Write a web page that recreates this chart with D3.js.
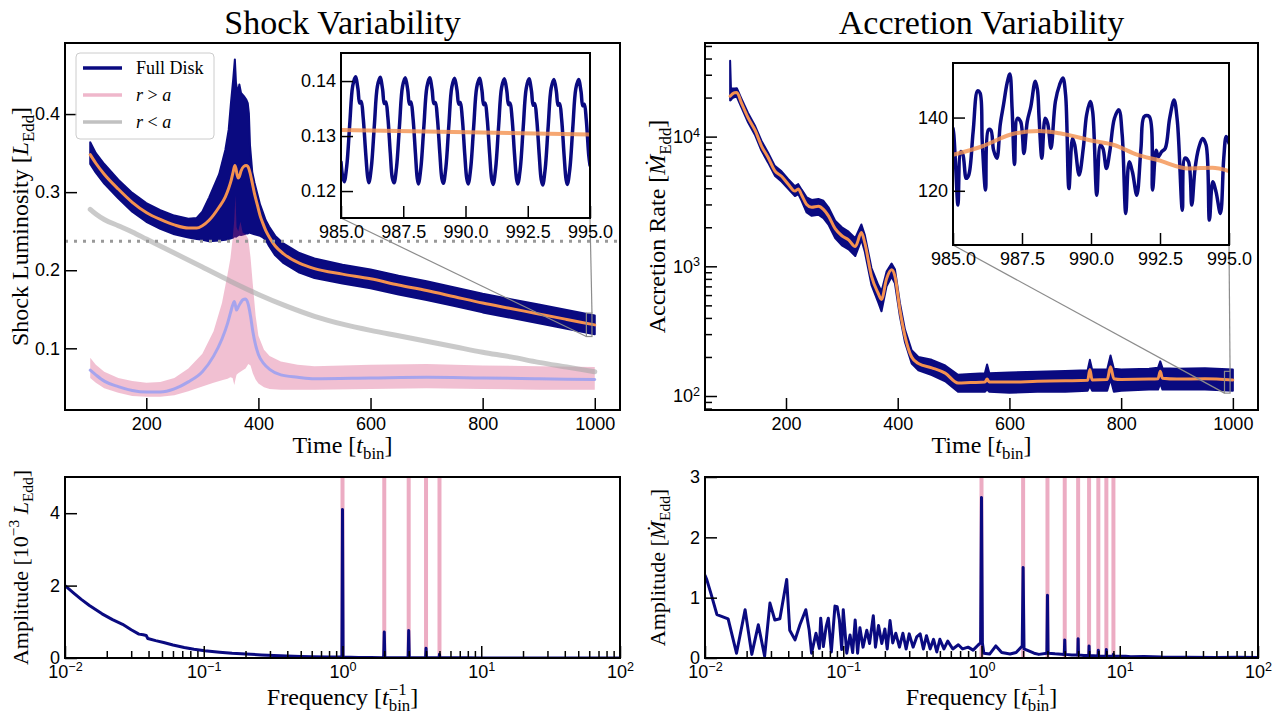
<!DOCTYPE html>
<html>
<head>
<meta charset="utf-8">
<script src="https://cdn.jsdelivr.net/npm/d3@7"></script>
<style>
  body { margin: 0; background: #fff; }
</style>
</head>
<body>
<div id="main"></div>
<script>
const W = 1278, H = 716;
const FONT = '"Liberation Serif", "Times New Roman", Times, serif';
const TICK_FS = 18, LABEL_FS = 24, SMALL_LABEL_FS = 22, TITLE_FS = 34;

const NAVY = "#0a0a80";
const ORANGE = "#f4914f";
const PINK = "#d0306a";
const LILAC = "#9da1f0";
const GREY = "#a6a6a6";

// ---------------- data: shock luminosity (L_Edd) ----------------
const shockT = [100, 110, 125, 150, 175, 200, 225, 250, 275, 290,
    300, 312, 330, 341, 347, 351, 355, 358, 360, 362,
    364, 366, 369, 374, 378, 381, 383, 385, 389, 393,
    398, 403, 408, 413, 419, 430, 445, 473, 500, 550,
    600, 650, 700, 750, 800, 850, 900, 950, 1000];
const shockMean = [0.348, 0.337, 0.323, 0.304, 0.287, 0.274, 0.265, 0.258, 0.254, 0.254,
    0.257, 0.264, 0.281, 0.294, 0.305, 0.314, 0.326, 0.334, 0.330, 0.322,
    0.318, 0.320, 0.327, 0.333, 0.334, 0.333, 0.330, 0.325, 0.312, 0.298,
    0.284, 0.270, 0.260, 0.251, 0.243, 0.231, 0.221, 0.209, 0.202, 0.195,
    0.189, 0.181, 0.174, 0.166, 0.158, 0.151, 0.144, 0.137, 0.130];
const shockHi = [0.364, 0.350, 0.336, 0.316, 0.299, 0.286, 0.277, 0.270, 0.266, 0.267,
    0.275, 0.293, 0.323, 0.354, 0.380, 0.414, 0.444, 0.470, 0.440, 0.432,
    0.429, 0.438, 0.427, 0.423, 0.419, 0.414, 0.401, 0.360, 0.326, 0.312,
    0.298, 0.284, 0.274, 0.264, 0.256, 0.244, 0.234, 0.222, 0.215, 0.207,
    0.201, 0.193, 0.186, 0.178, 0.170, 0.163, 0.156, 0.149, 0.142];
const shockLo = [0.336, 0.325, 0.311, 0.292, 0.275, 0.262, 0.253, 0.246, 0.242, 0.240,
    0.239, 0.237, 0.238, 0.239, 0.240, 0.241, 0.242, 0.244, 0.243, 0.244,
    0.245, 0.246, 0.245, 0.246, 0.247, 0.247, 0.248, 0.248, 0.247, 0.246,
    0.245, 0.244, 0.242, 0.239, 0.231, 0.219, 0.209, 0.197, 0.190, 0.183,
    0.177, 0.169, 0.162, 0.154, 0.146, 0.139, 0.132, 0.125, 0.118];

// r > a
const outerT = [100, 110, 125, 150, 175, 200, 225, 250, 275, 300,
    320, 335, 345, 350, 354, 357, 359, 361, 364, 368,
    372, 377, 382, 386, 390, 395, 400, 410, 420, 440,
    470, 500, 600, 700, 800, 900, 1000];
const outerMean = [0.072, 0.066, 0.058, 0.051, 0.046, 0.044, 0.044, 0.048, 0.057, 0.070,
    0.090, 0.112, 0.132, 0.145, 0.155, 0.160, 0.155, 0.149, 0.153, 0.158,
    0.162, 0.163, 0.156, 0.141, 0.122, 0.104, 0.092, 0.080, 0.073, 0.066,
    0.063, 0.061, 0.062, 0.063, 0.062, 0.061, 0.060];
const outerHi = [0.088, 0.079, 0.070, 0.062, 0.058, 0.056, 0.057, 0.062, 0.074, 0.093,
    0.122, 0.158, 0.195, 0.215, 0.240, 0.265, 0.296, 0.255, 0.250, 0.262,
    0.248, 0.246, 0.240, 0.216, 0.182, 0.142, 0.116, 0.098, 0.090, 0.083,
    0.079, 0.077, 0.079, 0.080, 0.078, 0.077, 0.076];
const outerLo = [0.062, 0.056, 0.049, 0.043, 0.039, 0.038, 0.038, 0.040, 0.045, 0.051,
    0.056, 0.059, 0.061, 0.063, 0.062, 0.053, 0.060, 0.066, 0.068, 0.070,
    0.072, 0.074, 0.080, 0.078, 0.068, 0.060, 0.055, 0.050, 0.048, 0.047,
    0.047, 0.047, 0.048, 0.049, 0.048, 0.047, 0.047];

// r < a
const innerT = [100, 110, 125, 150, 175, 200, 250, 300, 350, 400, 450,
    500, 550, 600, 650, 700, 750, 800, 850, 900, 950, 1000];
const innerMid = [0.278, 0.272, 0.265, 0.257, 0.249, 0.240, 0.222, 0.204, 0.186, 0.169, 0.154,
    0.141, 0.131, 0.123, 0.116, 0.109, 0.102, 0.095, 0.089, 0.082, 0.076, 0.070];

const shockRef = 0.237;

// zoom window 985-995
const insetShockT = [985.00, 985.06,
    985.13, 985.23, 985.35, 985.47, 985.58, 985.68, 985.75, 985.81, 985.89, 985.99, 986.07,
    986.12, 986.22, 986.34, 986.46, 986.57, 986.67, 986.74, 986.80, 986.88, 986.98, 987.06,
    987.13, 987.23, 987.35, 987.47, 987.58, 987.68, 987.75, 987.81, 987.89, 987.99, 988.06,
    988.11, 988.21, 988.33, 988.45, 988.56, 988.66, 988.73, 988.79, 988.87, 988.97, 989.05,
    989.11, 989.21, 989.33, 989.45, 989.56, 989.66, 989.73, 989.79, 989.87, 989.97, 990.05,
    990.11, 990.21, 990.33, 990.45, 990.56, 990.66, 990.73, 990.79, 990.87, 990.97, 991.05,
    991.11, 991.21, 991.33, 991.45, 991.56, 991.66, 991.73, 991.79, 991.87, 991.97, 992.05,
    992.10, 992.20, 992.32, 992.44, 992.55, 992.65, 992.72, 992.78, 992.86, 992.96, 993.04,
    993.10, 993.20, 993.32, 993.44, 993.55, 993.65, 993.72, 993.78, 993.86, 993.96, 994.04,
    994.09, 994.19, 994.31, 994.43, 994.54, 994.64, 994.71, 994.77, 994.85, 994.95, 995.00];
const insetShock = [0.1253, 0.1228,
    0.1217, 0.1245, 0.1321, 0.1391, 0.1408, 0.1386, 0.1360, 0.1363, 0.1334, 0.1270, 0.1226,
    0.1215, 0.1244, 0.1320, 0.1390, 0.1407, 0.1385, 0.1359, 0.1362, 0.1335, 0.1269, 0.1224,
    0.1215, 0.1243, 0.1320, 0.1390, 0.1406, 0.1384, 0.1358, 0.1362, 0.1334, 0.1268, 0.1224,
    0.1213, 0.1243, 0.1319, 0.1389, 0.1406, 0.1384, 0.1359, 0.1361, 0.1333, 0.1268, 0.1223,
    0.1214, 0.1242, 0.1319, 0.1389, 0.1405, 0.1383, 0.1358, 0.1361, 0.1333, 0.1267, 0.1223,
    0.1213, 0.1242, 0.1318, 0.1388, 0.1405, 0.1383, 0.1357, 0.1360, 0.1332, 0.1267, 0.1222,
    0.1212, 0.1241, 0.1318, 0.1388, 0.1404, 0.1382, 0.1357, 0.1360, 0.1332, 0.1266, 0.1222,
    0.1213, 0.1241, 0.1317, 0.1387, 0.1404, 0.1382, 0.1356, 0.1359, 0.1331, 0.1266, 0.1221,
    0.1211, 0.1240, 0.1317, 0.1387, 0.1403, 0.1381, 0.1356, 0.1359, 0.1331, 0.1265, 0.1221,
    0.1212, 0.1240, 0.1316, 0.1386, 0.1403, 0.1381, 0.1355, 0.1358, 0.1330, 0.1265, 0.1247];
const insetShockMeanT = [985, 995];
const insetShockMean = [0.1311, 0.1303];

// ---------------- data: accretion rate (Mdot_Edd) ----------------
const accT = [100, 101.5, 104, 108, 112, 120, 132, 145, 156, 168,
    180, 192, 204, 216, 222, 228, 237, 246, 258, 267,
    276, 288, 300, 312, 324, 335, 341, 353, 365, 371,
    380, 389, 395, 404, 413, 425, 437, 461, 485, 508,
    530, 556, 560, 564, 600, 650, 700, 740, 744, 748,
    775, 781, 787, 800, 850, 866, 870, 874, 900, 950, 1000];
const accMean = [20500, 20800, 21300, 21800, 21900, 18300, 14000, 11100, 8500, 6900,
    5450, 4950, 4300, 3800, 3950, 3550, 3000, 2850, 2900, 2750,
    2450, 1950, 1720, 1600, 1420, 1820, 1520, 840, 620, 555,
    800, 940, 840, 460, 290, 200, 178, 165, 150, 126,
    127, 128, 135, 128, 128, 130, 131, 132, 160, 133,
    134, 168, 136, 134, 135, 136, 155, 137, 135, 136, 133];
const accLo = [19000, 19200, 19800, 20200, 20300, 16900, 12900, 10200, 7800, 6300,
    5000, 4500, 3950, 3480, 3600, 3200, 2600, 2450, 2500, 2350,
    2100, 1650, 1450, 1350, 1200, 1600, 1300, 720, 530, 450,
    700, 830, 740, 410, 260, 178, 158, 145, 130, 108,
    108, 108, 112, 108, 106, 108, 108, 110, 120, 110,
    110, 135, 108, 110, 112, 112, 125, 112, 112, 112, 110];
const accHi = [38500, 23500, 23500, 23500, 23600, 19700, 15200, 12000, 9300, 7500,
    5950, 5400, 4700, 4150, 4300, 3900, 3400, 3250, 3300, 3200,
    2850, 2250, 2000, 1850, 1650, 2100, 1750, 970, 720, 640,
    910, 1050, 950, 520, 325, 225, 200, 190, 172, 146,
    148, 150, 175, 150, 152, 154, 156, 158, 190, 160,
    160, 205, 162, 160, 162, 165, 185, 164, 162, 164, 160];

const insetAccT = [985.00, 985.03, 985.10, 985.18, 985.28, 985.36, 985.48, 985.57, 985.73, 985.89,
    985.98, 986.06, 986.18, 986.28, 986.37, 986.47, 986.59, 986.71, 986.83, 986.96,
    987.06, 987.14, 987.23, 987.33, 987.45, 987.57, 987.69, 987.82, 987.98, 988.06,
    988.12, 988.22, 988.34, 988.43, 988.55, 988.71, 988.86, 988.98, 989.08, 989.20,
    989.33, 989.41, 989.57, 989.72, 989.84, 989.97, 990.06, 990.21, 990.34, 990.43,
    990.56, 990.68, 990.85, 991.01, 991.13, 991.26, 991.38, 991.50, 991.66, 991.81,
    991.93, 992.11, 992.23, 992.36, 992.44, 992.56, 992.69, 992.85, 993.01, 993.13,
    993.31, 993.40, 993.53, 993.65, 993.77, 993.90, 994.04, 994.17, 994.29, 994.41,
    994.53, 994.69, 994.81, 994.90, 995.00];
const insetAcc = [137.0, 135.3, 126.1, 116.1, 130.7, 129.8, 123.4, 124.3, 136.2, 147.3,
    146.7, 133.4, 120.2, 136.6, 136.6, 131.1, 128.9, 138.0, 143.5, 149.4,
    151.9, 142.6, 127.2, 139.8, 138.9, 130.2, 138.9, 143.0, 149.9, 147.6,
    139.8, 128.9, 139.8, 138.4, 131.6, 144.4, 148.9, 150.8, 146.2, 120.6,
    134.3, 132.5, 124.3, 131.6, 140.7, 144.4, 141.6, 118.8, 132.5, 131.6,
    126.1, 130.7, 139.8, 142.1, 135.3, 113.8, 127.9, 125.2, 118.8, 131.6,
    140.3, 140.3, 120.2, 131.1, 129.3, 130.7, 131.6, 139.8, 144.8, 138.9,
    114.7, 128.9, 128.0, 116.1, 126.1, 131.6, 134.3, 132.5, 112.0, 122.5,
    119.7, 113.8, 128.9, 134.8, 133.0];
const insetAccMeanT = [985.0, 986.04, 987.26, 988.12, 988.86, 990.09, 990.83, 991.69, 992.42, 993.53, 994.39, 995.0];
const insetAccMean = [129.8, 132.1, 135.7, 136.3, 135.7, 133.6, 132.5, 129.8, 128.4, 126.1, 126.3, 125.4];

// ---------------- data: amplitude spectra ----------------
const shockFreq = [0.01, 0.0115, 0.0131, 0.015, 0.0185, 0.022, 0.026, 0.030, 0.0341, 0.0366,
    0.0385, 0.0395, 0.045, 0.0514, 0.06, 0.0723, 0.085, 0.1016, 0.13, 0.16,
    0.201, 0.26, 0.32, 0.398, 0.5, 0.6, 0.787, 0.99, 1.0, 1.01,
    1.3, 1.6, 1.98, 2.0, 2.02, 2.5, 2.97, 3.0, 3.03, 3.5,
    3.97, 4.0, 4.03, 4.5, 4.97, 5.0, 5.03, 6, 8, 10,
    20, 50, 100];
const shockAmp = [2.00, 1.80, 1.62, 1.45, 1.22, 1.06, 0.93, 0.78, 0.66, 0.64,
    0.62, 0.54, 0.48, 0.43, 0.36, 0.29, 0.24, 0.20, 0.16, 0.13,
    0.11, 0.085, 0.068, 0.055, 0.042, 0.036, 0.030, 0.03, 4.10, 0.03,
    0.015, 0.012, 0.01, 0.72, 0.01, 0.008, 0.008, 0.76, 0.008, 0.006,
    0.006, 0.27, 0.006, 0.005, 0.005, 0.10, 0.005, 0.004, 0.004, 0.003,
    0.003, 0.003, 0.003];
const shockHarmonics = [1, 2, 3, 4, 5];

const accFreq = [0.01, 0.0103, 0.0111, 0.0122, 0.0147, 0.0169, 0.0195, 0.0218, 0.0243, 0.0270,
    0.0295, 0.0320, 0.0348, 0.0390, 0.0410, 0.0448, 0.0486, 0.0536, 0.0567, 0.0590,
    0.0635, 0.0672, 0.0687, 0.0718, 0.0752, 0.0780, 0.0820, 0.0871, 0.0904, 0.0938,
    0.0975, 0.100, 0.106, 0.112, 0.117, 0.122, 0.127, 0.132, 0.139, 0.148,
    0.155, 0.165, 0.171, 0.180, 0.190, 0.200, 0.208, 0.218, 0.228, 0.240,
    0.255, 0.270, 0.285, 0.300, 0.320, 0.340, 0.360, 0.380, 0.400, 0.425,
    0.450, 0.475, 0.500, 0.535, 0.570, 0.620, 0.680, 0.730, 0.800, 0.870,
    0.950, 0.985, 1.0, 1.015, 1.04, 1.145, 1.27, 1.40, 1.61, 1.78,
    1.97, 2.0, 2.03, 2.4, 2.6, 2.97, 3.0, 3.03, 3.4, 3.97,
    4.0, 4.03, 4.5, 4.97, 5.0, 5.03, 5.5, 5.97, 6.0, 6.03,
    6.97, 7.0, 7.03, 7.97, 8.0, 8.03, 8.97, 9.0, 9.03, 11,
    12, 15, 20, 30, 50, 70, 100];
const accAmp = [1.37, 1.30, 1.05, 0.72, 0.65, 0.08, 0.80, 0.06, 0.55, 0.03,
    0.91, 0.63, 0.65, 1.30, 0.46, 0.30, 0.55, 0.80, 0.46, 0.08,
    0.41, 0.16, 0.66, 0.19, 0.52, 0.66, 0.10, 0.86, 0.85, 0.63,
    0.14, 0.80, 0.08, 0.38, 0.09, 0.63, 0.08, 0.50, 0.18, 0.46,
    0.24, 0.70, 0.18, 0.54, 0.24, 0.48, 0.15, 0.62, 0.25, 0.41,
    0.18, 0.41, 0.15, 0.40, 0.18, 0.35, 0.40, 0.15, 0.37, 0.15,
    0.31, 0.10, 0.31, 0.15, 0.28, 0.15, 0.22, 0.15, 0.18, 0.13,
    0.22, 0.25, 2.66, 0.25, 0.08, 0.065, 0.20, 0.09, 0.065, 0.09,
    0.20, 1.50, 0.15, 0.08, 0.06, 0.08, 1.04, 0.08, 0.07, 0.06,
    0.30, 0.06, 0.05, 0.05, 0.32, 0.05, 0.04, 0.04, 0.20, 0.04,
    0.035, 0.13, 0.035, 0.03, 0.14, 0.03, 0.03, 0.06, 0.03, 0.03,
    0.02, 0.025, 0.015, 0.012, 0.01, 0.012, 0.008];
const accHarmonics = [1, 2, 3, 4, 5, 6, 7, 8, 9];

// ---------------- layout ----------------
const BOX = {
    shock: { x0: 65, x1: 620, y0: 43, y1: 410 },
    acc: { x0: 705, x1: 1258, y0: 43, y1: 410 },
    shockFft: { x0: 65, x1: 620, y0: 477, y1: 658 },
    accFft: { x0: 705, x1: 1258, y0: 477, y1: 658 },
    shockIn: { x0: 341, x1: 590, y0: 53, y1: 218 },
    accIn: { x0: 953, x1: 1229, y0: 63, y1: 245 },
};

const svg = d3.select("#main").append("svg")
    .attr("width", W).attr("height", H)
    .style("font-family", FONT);
svg.append("rect").attr("width", W).attr("height", H).attr("fill", "#fff");
const defs = svg.append("defs");

var addClip = function (id, b) {
    defs.append("clipPath").attr("id", id).append("rect")
        .attr("x", b.x0).attr("y", b.y0)
        .attr("width", b.x1 - b.x0).attr("height", b.y1 - b.y0);
};

var zip = (xs, ys) => xs.map((v, i) => [v, ys[i]]);
var zip3 = (xs, a, b) => xs.map((v, i) => [v, a[i], b[i]]);

// text with italic / sub / sup pieces, parts = [[text, kind], ...]
var richText = function (parent, x, y, parts, size, rot, anchor) {
    const t = parent.append("text")
        .attr("transform", "translate(" + x + "," + y + ")" + (rot ? " rotate(" + rot + ")" : ""))
        .attr("text-anchor", anchor || "middle")
        .attr("font-size", size)
        .attr("fill", "#000");
    let shift = 0, last = null;
    parts.forEach(function (p) {
        const kind = p[1] || "r";
        const s = t.append("tspan").text(p[0]);
        let off = 0, fs = size;
        if (kind.indexOf("sup") === 0) { off = -0.42 * size; fs = 0.7 * size; }
        if (kind.indexOf("sub") === 0) { off = 0.24 * size; fs = 0.7 * size; }
        s.attr("font-size", fs);
        if (off !== shift) s.attr("dy", off - shift);
        shift = off;
        if (kind === "i") s.attr("font-style", "italic");
        if (kind === "subBack" && last) s.attr("dx", -last.node().getComputedTextLength());
        last = s;
    });
    return t;
};

var styleAxis = function (g) {
    g.select(".domain").remove();
    g.selectAll(".tick line").attr("stroke", "#000").attr("stroke-width", 1.5);
    g.selectAll(".tick text").attr("font-size", TICK_FS).attr("fill", "#000");
};

var powLabels = function (g) {
    g.selectAll(".tick text").each(function (d) {
        const e = Math.round(Math.log10(d));
        const s = d3.select(this).text("10");
        s.append("tspan").attr("dy", "-0.5em").attr("font-size", "0.7em")
            .text(e < 0 ? "\u2212" + (-e) : String(e));
    });
};

var logMinor = function (lo, hi) {
    const out = [];
    for (let k = Math.floor(Math.log10(lo)); k <= Math.ceil(Math.log10(hi)); k++) {
        for (let m = 2; m <= 9; m++) {
            const v = m * Math.pow(10, k);
            if (v > lo && v < hi) out.push(v);
        }
    }
    return out;
};

var xAxis = function (g, b, x, ticks, fmt, minor) {
    const ax = g.append("g").attr("transform", "translate(0," + b.y1 + ")");
    ax.call(d3.axisBottom(x).tickValues(ticks).tickSize(-12).tickPadding(7).tickFormat(fmt || null));
    styleAxis(ax);
    if (minor) {
        const mx = g.append("g").attr("transform", "translate(0," + b.y1 + ")");
        mx.call(d3.axisBottom(x).tickValues(minor).tickSize(-7).tickFormat(""));
        styleAxis(mx);
    }
    return ax;
};

var yAxis = function (g, b, y, ticks, fmt, minor) {
    const ax = g.append("g").attr("transform", "translate(" + b.x0 + ",0)");
    ax.call(d3.axisLeft(y).tickValues(ticks).tickSize(-12).tickPadding(5).tickFormat(fmt || null));
    styleAxis(ax);
    if (minor) {
        const my = g.append("g").attr("transform", "translate(" + b.x0 + ",0)");
        my.call(d3.axisLeft(y).tickValues(minor).tickSize(-7).tickFormat(""));
        styleAxis(my);
    }
    return ax;
};

var frame = function (g, b) {
    g.append("rect").attr("x", b.x0).attr("y", b.y0)
        .attr("width", b.x1 - b.x0).attr("height", b.y1 - b.y0)
        .attr("fill", "none").attr("stroke", "#000").attr("stroke-width", 2);
};

var band = function (g, x, y, rows, color, opacity, edge) {
    g.append("path").datum(rows)
        .attr("d", d3.area().x(d => x(d[0])).y0(d => y(d[1])).y1(d => y(d[2])))
        .attr("fill", color).attr("fill-opacity", opacity)
        .attr("stroke", edge ? color : "none").attr("stroke-width", edge || 0)
        .attr("stroke-linejoin", "round");
};

var line = function (g, x, y, rows, color, width, opacity, curve) {
    g.append("path").datum(rows)
        .attr("d", d3.line().x(d => x(d[0])).y(d => y(d[1])).curve(curve || d3.curveLinear))
        .attr("fill", "none").attr("stroke", color).attr("stroke-width", width)
        .attr("stroke-opacity", opacity == null ? 1 : opacity)
        .attr("stroke-linejoin", "round").attr("stroke-linecap", "round");
};

// zoom box + connectors in the parent axes
var indicateZoom = function (g, xMain, yMain, xDom, yDom, inB) {
    const rx0 = xMain(xDom[0]), rx1 = xMain(xDom[1]);
    const ryLo = yMain(yDom[0]), ryHi = yMain(yDom[1]);
    g.append("rect").attr("x", rx0).attr("y", ryHi)
        .attr("width", rx1 - rx0).attr("height", ryLo - ryHi)
        .attr("fill", "none").attr("stroke", "#8c8c8c").attr("stroke-width", 1.2);
    g.append("line").attr("x1", inB.x0).attr("y1", inB.y1).attr("x2", rx0).attr("y2", ryLo)
        .attr("stroke", "#8c8c8c").attr("stroke-width", 1.2);
    g.append("line").attr("x1", inB.x1).attr("y1", inB.y1).attr("x2", rx1).attr("y2", ryHi)
        .attr("stroke", "#8c8c8c").attr("stroke-width", 1.2);
};

var drawInset = function (b, yDom, yTicks, yFmt, series, meanSeries) {
    const g = svg.append("g");
    const x = d3.scaleLinear().domain([985, 995]).range([b.x0, b.x1]);
    const y = d3.scaleLinear().domain(yDom).range([b.y1, b.y0]);
    g.append("rect").attr("x", b.x0).attr("y", b.y0)
        .attr("width", b.x1 - b.x0).attr("height", b.y1 - b.y0).attr("fill", "#fff");
    const id = "clip" + b.x0;
    addClip(id, b);
    const dg = g.append("g").attr("clip-path", "url(#" + id + ")");
    line(dg, x, y, series, NAVY, 3.5, 1, d3.curveCatmullRom);
    line(dg, x, y, meanSeries, ORANGE, 4, 0.8, d3.curveMonotoneX);
    xAxis(g, b, x, [985, 987.5, 990, 992.5, 995], d3.format(".1f"));
    yAxis(g, b, y, yTicks, yFmt);
    frame(g, b);
};

// ---------------- top left: shock luminosity ----------------
var drawShock = function () {
    const b = BOX.shock;
    const g = svg.append("g");
    const x = d3.scaleLinear().domain([55, 1045]).range([b.x0, b.x1]);
    const y = d3.scaleLinear().domain([0.021, 0.491]).range([b.y1, b.y0]);
    addClip("clipShock", b);
    const dg = g.append("g").attr("clip-path", "url(#clipShock)");

    band(dg, x, y, zip3(shockT, shockLo, shockHi), NAVY, 1, 2);
    line(dg, x, y, zip(shockT, shockMean), ORANGE, 3, 1, d3.curveMonotoneX);
    band(dg, x, y, zip3(outerT, outerLo, outerHi), PINK, 0.3, 0);
    line(dg, x, y, zip(outerT, outerMean), LILAC, 3, 0.9, d3.curveMonotoneX);
    line(dg, x, y, zip(innerT, innerMid), GREY, 5, 0.6, d3.curveMonotoneX);
    dg.append("line").attr("x1", b.x0).attr("x2", b.x1)
        .attr("y1", y(shockRef)).attr("y2", y(shockRef))
        .attr("stroke", "#999").attr("stroke-width", 3).attr("stroke-dasharray", "3,6");

    indicateZoom(g, x, y, [985, 995], [0.1151, 0.1451], BOX.shockIn);

    xAxis(g, b, x, [200, 400, 600, 800, 1000], d3.format("d"));
    yAxis(g, b, y, [0.1, 0.2, 0.3, 0.4], d3.format(".1f"));
    frame(g, b);

    // legend
    const lg = g.append("g");
    lg.append("rect").attr("x", 76).attr("y", 53).attr("width", 138).attr("height", 86)
        .attr("rx", 4).attr("fill", "#fff").attr("fill-opacity", 0.8)
        .attr("stroke", "#cccccc").attr("stroke-width", 1);
    const entries = [
        { y: 68, color: NAVY, op: 1, parts: [["Full Disk", "r"]] },
        { y: 95, color: PINK, op: 0.35, parts: [["r", "i"], [" > ", "r"], ["a", "i"]] },
        { y: 122, color: GREY, op: 0.7, parts: [["r", "i"], [" < ", "r"], ["a", "i"]] },
    ];
    entries.forEach(function (e) {
        lg.append("line").attr("x1", 83).attr("x2", 122).attr("y1", e.y).attr("y2", e.y)
            .attr("stroke", e.color).attr("stroke-opacity", e.op).attr("stroke-width", 3.5);
        richText(lg, 136, e.y + 6, e.parts, 18, 0, "start");
    });

    drawInset(BOX.shockIn, [0.1151, 0.1451], [0.12, 0.13, 0.14], d3.format(".2f"),
        zip(insetShockT, insetShock), zip(insetShockMeanT, insetShockMean));

    richText(svg, 342.5, 34, [["Shock Variability", "r"]], TITLE_FS);
    richText(svg, 342.5, 453, [["Time [", "r"], ["t", "i"], ["bin", "sub"], ["]", "r"]], LABEL_FS);
    richText(svg, 28, 226.5, [["Shock Luminosity [", "r"], ["L", "i"], ["Edd", "sub"], ["]", "r"]], LABEL_FS, -90);
};

// ---------------- top right: accretion rate ----------------
var drawAcc = function () {
    const b = BOX.acc;
    const g = svg.append("g");
    const x = d3.scaleLinear().domain([55, 1045]).range([b.x0, b.x1]);
    const y = d3.scaleLog().domain([78, 52700]).range([b.y1, b.y0]);
    addClip("clipAcc", b);
    const dg = g.append("g").attr("clip-path", "url(#clipAcc)");

    band(dg, x, y, zip3(accT, accLo, accHi), NAVY, 1, 2);
    line(dg, x, y, zip(accT, accMean), ORANGE, 3, 1, d3.curveMonotoneX);

    indicateZoom(g, x, y, [985, 995], [105.2, 154.9], BOX.accIn);

    xAxis(g, b, x, [200, 400, 600, 800, 1000], d3.format("d"));
    const ya = yAxis(g, b, y, [100, 1000, 10000], null, logMinor(78, 52700));
    powLabels(ya);
    frame(g, b);

    drawInset(BOX.accIn, [105.2, 154.9], [120, 140], d3.format("d"),
        zip(insetAccT, insetAcc), zip(insetAccMeanT, insetAccMean));

    richText(svg, 981.5, 34, [["Accretion Variability", "r"]], TITLE_FS);
    richText(svg, 981.5, 453, [["Time [", "r"], ["t", "i"], ["bin", "sub"], ["]", "r"]], LABEL_FS);
    richText(svg, 665, 226.5, [["Accretion Rate [", "r"], ["\u1E40", "i"], ["Edd", "sub"], ["]", "r"]], LABEL_FS, -90);
};

// ---------------- bottom: spectra ----------------
var drawSpectrum = function (b, clipId, yMax, yTicks, freq, amp, harmonics, ylabelParts, lx) {
    const g = svg.append("g");
    const x = d3.scaleLog().domain([0.01, 100]).range([b.x0, b.x1]);
    const y = d3.scaleLinear().domain([0, yMax]).range([b.y1, b.y0]);
    addClip(clipId, b);
    const dg = g.append("g").attr("clip-path", "url(#" + clipId + ")");

    dg.selectAll("line.harm").data(harmonics).enter().append("line")
        .attr("class", "harm")
        .attr("x1", d => x(d)).attr("x2", d => x(d))
        .attr("y1", b.y0).attr("y2", b.y1)
        .attr("stroke", PINK).attr("stroke-opacity", 0.4).attr("stroke-width", 4);
    line(dg, x, y, zip(freq, amp), NAVY, 3, 1, d3.curveLinear);

    const xa = xAxis(g, b, x, [0.01, 0.1, 1, 10, 100], null, logMinor(0.01, 100));
    powLabels(xa);
    yAxis(g, b, y, yTicks, d3.format("d"));
    frame(g, b);

    const cx = (b.x0 + b.x1) / 2;
    richText(svg, cx, 705, [["Frequency [", "r"], ["t", "i"], ["\u22121", "sup"], ["bin", "subBack"], ["]", "r"]], LABEL_FS);
    richText(svg, lx, (b.y0 + b.y1) / 2, ylabelParts, SMALL_LABEL_FS, -90);
};

drawShock();
drawAcc();
drawSpectrum(BOX.shockFft, "clipSF", 5, [0, 2, 4], shockFreq, shockAmp, shockHarmonics,
    [["Amplitude [10", "r"], ["\u22123", "sup"], [" ", "r"], ["L", "i"], ["Edd", "sub"], ["]", "r"]], 28);
drawSpectrum(BOX.accFft, "clipAF", 3, [0, 1, 2, 3], accFreq, accAmp, accHarmonics,
    [["Amplitude [", "r"], ["\u1E40", "i"], ["Edd", "sub"], ["]", "r"]], 665);
</script>
</body>
</html>
